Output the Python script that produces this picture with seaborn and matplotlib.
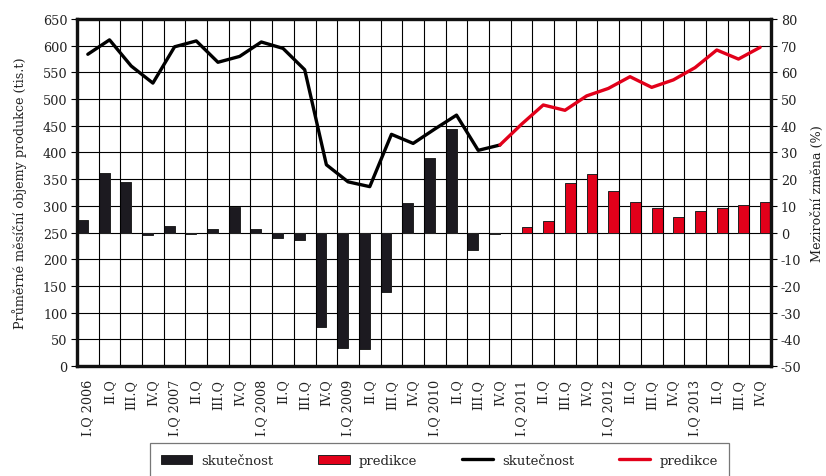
import matplotlib
matplotlib.use("Agg")
import matplotlib.pyplot as plt
import numpy as np
import pandas as pd
import seaborn as sns
from matplotlib.lines import Line2D
from matplotlib.patches import Patch
from matplotlib.ticker import FixedLocator, MultipleLocator

# quarters I.Q 2006 .. IV.Q 2013
quarters = []
for year in range(2006, 2014):
    quarters += [f"I.Q {year}", "II.Q", "III.Q", "IV.Q"]

# average monthly production (tis.t) - left axis
production = [
    584, 611, 562, 530, 598, 609, 569, 580, 607, 595,
    555, 377, 345, 336, 434, 417, 444, 470, 404, 414,
    453, 489, 479, 506, 520, 542, 522, 536, 559, 592,
    575, 597,
]
n_actual = 20  # last actual quarter is IV.Q 2010

# year-on-year change (%) - right axis
change_actual = [
    4.6, 22.2, 18.8, -0.9, 2.3, -0.6, 1.2, 9.6, 1.5, -2.2,
    -2.9, -35.4, -43.1, -43.5, -22.1, 11.0, 27.9, 38.8, -6.5, -0.6,
]
change_forecast = [1.9, 4.3, 18.4, 21.9, 15.6, 11.5, 9.1, 6.0, 8.1, 9.1, 10.3, 11.5]

label_actual = "skutečnost"
label_forecast = "predikce"
black = "#1c1a20"
red = "#e2001a"

pos = np.arange(len(quarters))
bars = pd.DataFrame({
    "pos": pos,
    "change": change_actual + change_forecast,
    "type": [label_actual] * len(change_actual) + [label_forecast] * len(change_forecast),
})

sns.set_style("white")
plt.rcParams["font.family"] = ["DejaVu Serif"]
plt.rcParams["font.size"] = 9.2
plt.rcParams["axes.unicode_minus"] = False

fig, ax = plt.subplots(figsize=(8.26, 4.77), dpi=100)
fig.subplots_adjust(left=0.0932, right=0.9334, top=0.958, bottom=0.2306)
ax2 = ax.twinx()

sns.barplot(
    data=bars, x="pos", y="change", hue="type",
    hue_order=[label_actual, label_forecast],
    palette=[black, red],
    width=1.0, dodge=True, edgecolor="#222222", linewidth=0.7,
    saturation=1, legend=False, ax=ax2,
)

sns.lineplot(x=pos[:n_actual], y=production[:n_actual], color="black",
             linewidth=2.4, ax=ax)
sns.lineplot(x=pos[n_actual - 1:], y=production[n_actual - 1:], color=red,
             linewidth=2.4, ax=ax)

ax.set_zorder(ax2.get_zorder() + 1)
ax.patch.set_visible(False)

ax.set_xlim(-0.5, len(quarters) - 0.5)
ax.set_ylim(0, 650)
ax2.set_ylim(-50, 80)
ax.yaxis.set_major_locator(MultipleLocator(50))
ax2.yaxis.set_major_locator(MultipleLocator(10))

ax.set_xticks(pos)
ax.set_xticklabels(quarters, rotation=90)
ax.xaxis.set_minor_locator(FixedLocator(np.arange(-0.5, len(quarters), 1.0)))
ax.tick_params(axis="x", which="major", length=0, pad=9)
ax.tick_params(axis="x", which="minor", length=4, width=0.8, color="black", direction="out")
ax.tick_params(axis="y", length=4, width=0.8, color="black", direction="out", pad=3)
ax2.tick_params(axis="y", length=4, width=0.8, color="black", direction="out", pad=3)
ax.tick_params(labelcolor="#222222")
ax2.tick_params(labelcolor="#222222")

ax.grid(False)
ax.xaxis.grid(True, which="minor", color="black", linewidth=0.8)
ax2.set_axisbelow(True)
ax2.yaxis.grid(True, color="black", linewidth=0.8)
ax2.xaxis.grid(False)

ax.set_xlabel("")
ax2.set_xlabel("")
ax.set_ylabel("Průměrné měsíční objemy produkce (tis.t)", labelpad=11, color="#222222")
ax2.set_ylabel("Meziroční změna (%)", labelpad=7, color="#222222")

for a in (ax, ax2):
    for spine in a.spines.values():
        spine.set_visible(True)
        spine.set_linewidth(2.3)
        spine.set_color("#111111")

handles = [
    Patch(facecolor=black, edgecolor="#222222", linewidth=0.7),
    Patch(facecolor=red, edgecolor="#222222", linewidth=0.7),
    Line2D([], [], color="black", linewidth=2.4),
    Line2D([], [], color=red, linewidth=2.4),
]
labels = [label_actual, label_forecast, label_actual, label_forecast]
leg = fig.legend(
    handles, labels, loc="upper center", bbox_to_anchor=(0.532, 0.0692),
    ncol=4, frameon=True, fancybox=False, edgecolor="#555555",
    handlelength=2.4, handleheight=0.75, handletextpad=0.7,
    columnspacing=3.35, borderpad=0.85, borderaxespad=0, fontsize=9.5,
)
leg.get_frame().set_linewidth(0.9)

fig.savefig("out.png", dpi=100)
